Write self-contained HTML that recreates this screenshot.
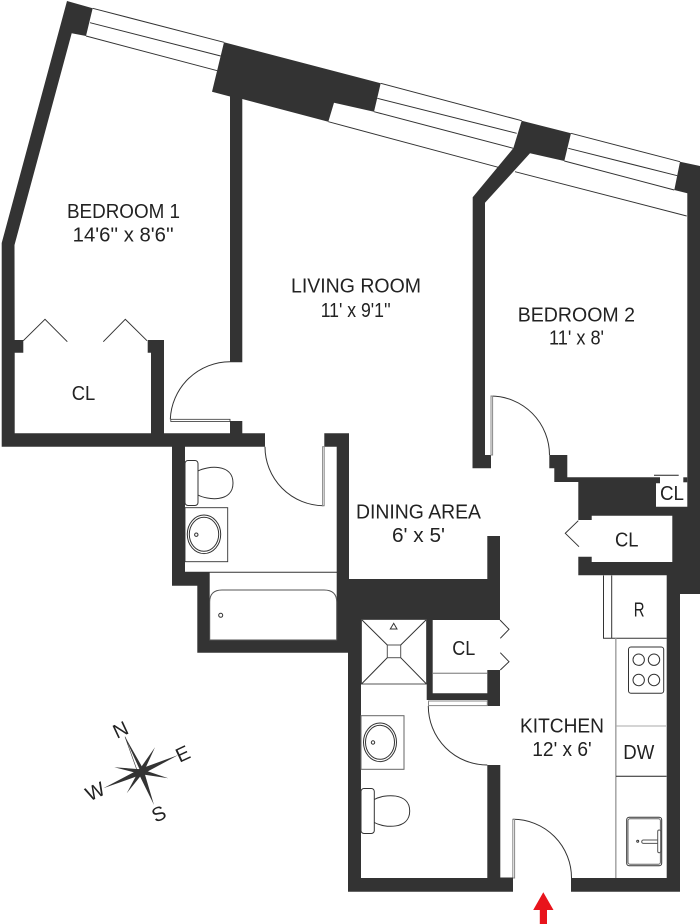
<!DOCTYPE html>
<html><head><meta charset="utf-8"><style>
html,body{margin:0;padding:0;background:#fff}
svg{display:block}
text{font-family:"Liberation Sans",sans-serif;font-size:20px;fill:#222}
</style></head><body>
<svg width="700" height="924" viewBox="0 0 700 924" xmlns="http://www.w3.org/2000/svg">
<rect width="700" height="924" fill="#fff"/>
<g fill="#333">
<polygon points="67,1 92.7,8.3 86,36 71.7,33.3 14.5,245 14.7,340 23.3,340 23.3,352.7 14.7,352.7 14.7,433.3 151,433.3 151,352.7 147.7,352.7 147.7,340 164,340 164,433.3 230,433.3 230,421 242.3,421 242.3,433.3 265,433.3 265,446.7 185,446.7 185,572.3 209.7,572.3 209.7,640 336.7,640 336.7,446.7 324.3,446.7 324.3,433.3 349,433.3 349,579 487.3,579 487.3,536 500,536 500,620 432.7,620 432.7,693.3 487.3,693.3 487.3,670 500,670 500,706 487.3,706 487.3,700 426.7,700 426.7,619.3 361,619.3 361,878 487.3,878 487.3,765 500.3,765 500.3,878 513,878 513,891.7 348,891.7 348,652.7 197.3,652.7 197.3,585.7 172,585.7 172,446.7 1.7,446.7 1.7,243"/>
<polygon points="224,42.3 380.7,83.3 374,111.7 334,102.7 328.3,121.7 242.3,99 242.3,362.3 230,362.3 230,96.5 212,91.7"/>
<polygon points="521.7,120.7 571,133.3 564.3,161 530,153.3 485,202.7 485,455 491,455 491,468.3 472.5,468.3 472.7,197.3 513.3,148.3"/>
<polygon points="680,161.7 700,166 700,594 680,594 680,891.7 571,891.7 571,878 666.7,878 666.7,575.3 578.3,575.3 578.3,556.7 591.7,556.7 591.7,562 672.3,562 672.3,515.7 591.7,515.7 591.7,520 578.3,520 578.3,482 554.3,482 554.3,468.3 549.3,468.3 549.3,455 567.3,455 567.3,477.3 660,477.3 660,483.3 656,483.3 656,506.7 687.3,506.7 687.3,193.3 674.3,190"/>
<rect x="683.3" y="477.3" width="4" height="5"/>
</g>
<g fill="none" stroke="#333" stroke-width="1">
<!-- windows -->
<path d="M92.7,8.3L224,42.3M90,22.7L220.7,56M86,36L217.3,70.7"/>
<path d="M380.7,83.3L521.7,120.7M377.3,98.3L516.7,133.3M374,111.7L513.3,148.3"/>
<path d="M571,133.3L680,161.7M568.3,148.3L677.3,175.7M564.3,161L674.3,190"/>
<path d="M328.3,121.7L498.3,167.3M515,171.7L686.7,216"/>
<!-- closet doors -->
<path d="M23.3,340.7L45,319.3L67.3,341.7M103.3,341.7L125.3,319.3L147,340.7"/>
<path d="M578.3,520.7L565.3,533.3L579,546.7"/>
<path d="M500,620L509,629.3L500.3,638.3M500.3,652.7L509,661.7L500.3,670"/>
<path d="M654,475.3H678.7" stroke="#222"/>
<!-- door arcs -->
<path d="M170.3,419.3A60,60 0 0 1 230,361.7"/>
<path d="M265,446.7A59,59 0 0 0 323.5,505.7"/>
<path d="M491,396A59,59 0 0 1 549.5,455"/>
<path d="M428.3,706A59,59 0 0 0 487.3,765"/>
<path d="M513,819.3A58.5,58.5 0 0 1 571.5,878"/>
<!-- door leaves -->
<rect x="170.8" y="419.3" width="59.2" height="2.2" stroke-width=".8"/>
<rect x="322.6" y="446.7" width="1.6" height="59" stroke="#888"/>
<rect x="491" y="396" width="1.6" height="59" stroke="#888"/>
<rect x="428.5" y="701" width="58.8" height="4.6" stroke="#888"/>
<rect x="512.8" y="819.3" width="1.8" height="58.7" stroke="#888"/>
<path d="M500,878H513" stroke="#333"/>
<!-- bath 1 -->
<rect x="185" y="460.5" width="13" height="45" rx="3"/>
<path d="M198,471C207,466 233,463 233,483C233,503 207,500 198,495"/>
<rect x="185" y="507.7" width="42.7" height="54" stroke-width=".9"/>
<ellipse cx="204" cy="534.3" rx="16.7" ry="19.3"/>
<ellipse cx="204" cy="534.3" rx="14.7" ry="17"/>
<circle cx="196.3" cy="534.7" r="1.7"/>
<path d="M185,572.3H337"/>
<path d="M209.7,640V602Q209.7,590 222,590H324Q336.7,590 336.7,602V640Z" stroke="#555"/>
<circle cx="220.7" cy="615.3" r="2"/>
<!-- shower -->
<rect x="361.5" y="619.5" width="65" height="64.5" stroke="#555"/>
<rect x="387.3" y="645" width="13.4" height="12.7" stroke="#555"/>
<path d="M361.5,619.5L387.3,645M426.5,619.5L400.7,645M361.5,684L387.3,657.7M426.5,684L400.7,657.7"/>
<polygon points="390.3,629 397,629 393.7,623.3"/>
<path d="M433,673.3H487.3" stroke="#999" stroke-width="1.3"/>
<!-- bath 2 -->
<rect x="361" y="715.7" width="43" height="53.6" stroke="#666"/>
<ellipse cx="380" cy="742.3" rx="16.5" ry="19.3"/>
<ellipse cx="380" cy="742.3" rx="14.5" ry="17"/>
<circle cx="373" cy="742.5" r="1.7"/>
<rect x="361" y="788.5" width="13.3" height="45" rx="3"/>
<path d="M374.3,799.5C384,794 409.7,792 409.7,811C409.7,830 384,828 374.3,822.5"/>
<!-- fridge -->
<path d="M603.5,575.5V638.3H666.7M611.7,575.5V638.3"/>
<!-- counter -->
<path d="M615.8,638.3V878" stroke="#aaa" stroke-width="1.6"/>
<path d="M616,726H666" stroke="#aaa"/>
<path d="M616,776.3H666.5" stroke="#222"/>
<!-- range -->
<rect x="628.5" y="647" width="35.2" height="46.3" rx="2.5"/>
<circle cx="638.7" cy="659.7" r="5.7"/><circle cx="654" cy="659.7" r="5.7"/>
<circle cx="638.7" cy="680" r="5.7"/><circle cx="654" cy="680" r="5.7"/>
<!-- kitchen sink -->
<rect x="626.7" y="817.3" width="35" height="48.4" rx="2.5"/>
<rect x="628" y="818.8" width="32.4" height="45.4" rx="2" stroke="#666"/>
<rect x="641.7" y="840" width="18.5" height="3.4" rx="1.7" fill="#fff" stroke="#555"/>
<rect x="657.7" y="830" width="3" height="22.7" rx="1.5" fill="#fff" stroke="#555"/>
<circle cx="637.7" cy="841.3" r="1"/>
</g>
<!-- arrow -->
<polygon points="543.3,892.3 553.5,910 547,910 547,924 539.8,924 539.8,910 533.2,910" fill="#e8141c"/>
<!-- compass -->
<g fill="#333">
<polygon points="125,736.7 144,770.2 141,771.7" />
<polygon points="125,736.7 141,771.7 138,773" fill="#fff" stroke="#333" stroke-width=".6"/>
<polygon points="178.3,755 142.2,774.4 139.8,769"/>
<polygon points="154,805 143.8,770.6 138.2,772.8"/>
<polygon points="103.3,788.3 142.2,774.4 139.8,769"/>
<polygon points="155,747.3 143.2,773 138.8,770.4"/>
<polygon points="168.3,778.3 141.6,769.3 140.4,774.1"/>
<polygon points="126.7,793.3 143,773 139,770.4"/>
<polygon points="114.3,767.3 141.4,774.2 140.6,769.2"/>
<circle cx="141" cy="771.7" r="3.2"/>
</g>
<g>
<text x="0" y="0" style="font-size:20px" text-anchor="middle" transform="translate(123.4,736) rotate(-25)">N</text>
<text x="0" y="0" style="font-size:20px" text-anchor="middle" transform="translate(185.7,760) rotate(-25)">E</text>
<text x="0" y="0" style="font-size:20px" text-anchor="middle" transform="translate(98,797.6) rotate(-25)">W</text>
<text x="0" y="0" style="font-size:20px" text-anchor="middle" transform="translate(161.7,820) rotate(-25)">S</text>
</g>
<!-- labels -->
<text x="67" y="218" textLength="113" lengthAdjust="spacingAndGlyphs">BEDROOM 1</text>
<text x="72.7" y="241.3" textLength="101" lengthAdjust="spacingAndGlyphs">14'6'' x 8'6''</text>
<text x="291" y="292.7" textLength="130" lengthAdjust="spacingAndGlyphs">LIVING ROOM</text>
<text x="320.7" y="317" textLength="70" lengthAdjust="spacingAndGlyphs">11' x 9'1''</text>
<text x="517.7" y="321.3" textLength="117.3" lengthAdjust="spacingAndGlyphs">BEDROOM 2</text>
<text x="549" y="344.3" textLength="55" lengthAdjust="spacingAndGlyphs">11' x 8'</text>
<text x="356" y="518.3" textLength="125" lengthAdjust="spacingAndGlyphs">DINING AREA</text>
<text x="392" y="542" textLength="53" lengthAdjust="spacingAndGlyphs">6' x 5'</text>
<text x="71.7" y="400" textLength="23.5" lengthAdjust="spacingAndGlyphs">CL</text>
<text x="660" y="500" textLength="24" lengthAdjust="spacingAndGlyphs">CL</text>
<text x="615" y="546.7" textLength="23.5" lengthAdjust="spacingAndGlyphs">CL</text>
<text x="633.7" y="616.7" textLength="10.8" lengthAdjust="spacingAndGlyphs">R</text>
<text x="452.3" y="655" textLength="23" lengthAdjust="spacingAndGlyphs">CL</text>
<text x="520" y="732.3" textLength="84" lengthAdjust="spacingAndGlyphs">KITCHEN</text>
<text x="532.3" y="756" textLength="59.4" lengthAdjust="spacingAndGlyphs">12' x 6'</text>
<text x="623.3" y="759" textLength="31" lengthAdjust="spacingAndGlyphs">DW</text>
</svg>
</body></html>
